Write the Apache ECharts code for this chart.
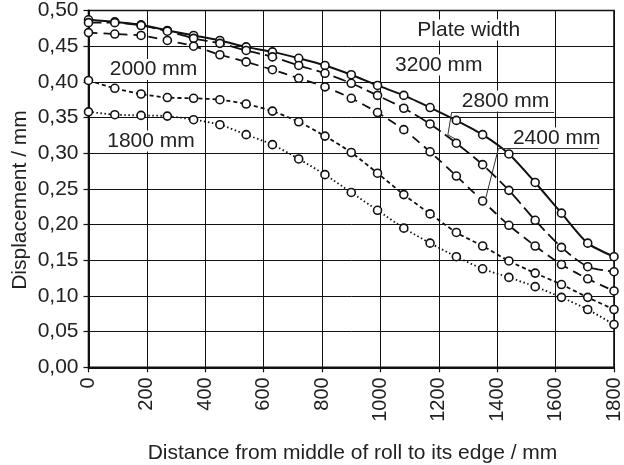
<!DOCTYPE html>
<html>
<head>
<meta charset="utf-8">
<script src="https://cdn.jsdelivr.net/npm/echarts@6/dist/echarts.min.js"></script>
<style>
html,body{margin:0;padding:0;background:#fff;}
#chart{width:624px;height:465px;}
</style>
</head>
<body>
<div id="chart"></div>
<script>
// ---- data ----
const xValues = [0,90,180,270,360,450,540,630,720,810,900,990,1080,1170,1260,1350,1440,1530,1620,1710,1800];
const w3200 = [0.487,0.484,0.480,0.472,0.465,0.458,0.449,0.442,0.433,0.423,0.410,0.395,0.381,0.364,0.346,0.326,0.299,0.259,0.216,0.174,0.155];
const w2800 = [0.483,0.483,0.479,0.471,0.461,0.454,0.444,0.435,0.423,0.412,0.398,0.381,0.363,0.341,0.314,0.284,0.248,0.206,0.168,0.141,0.134];
const w2400 = [0.469,0.467,0.465,0.458,0.450,0.438,0.428,0.417,0.405,0.393,0.377,0.357,0.333,0.302,0.268,0.233,0.199,0.170,0.144,0.124,0.107];
const w2000 = [0.402,0.391,0.383,0.378,0.377,0.375,0.369,0.359,0.344,0.324,0.301,0.272,0.242,0.215,0.189,0.170,0.149,0.132,0.116,0.098,0.081];
const w1800 = [0.358,0.354,0.353,0.352,0.347,0.340,0.326,0.312,0.292,0.270,0.245,0.220,0.195,0.174,0.155,0.138,0.126,0.113,0.098,0.081,0.060];
const xTickLabels = ['0','200','400','600','800','1000','1200','1400','1600','1800'];
const yTickLabels = ['0,00','0,05','0,10','0,15','0,20','0,25','0,30','0,35','0,40','0,45','0,50'];
const seriesNames = ['3200 mm','2800 mm','2400 mm','2000 mm','1800 mm'];

const FONT = "'Liberation Sans', Arial, sans-serif";
const INK = '#111';
const TXT = '#222';

function pts(arr){ return xValues.map((x,i)=>[x, arr[i]]); }

const chart = echarts.init(document.getElementById('chart'), null, {renderer:'canvas'});

function mkSeries(name, arr, dash, width){
  return {
    name: name,
    type: 'line',
    data: pts(arr),
    smooth: 0.25,
    symbol: 'circle',
    symbolSize: 8,
    showSymbol: true,
    lineStyle: {color: INK, width: width, type: dash},
    itemStyle: {color: '#fff', borderColor: INK, borderWidth: 1.6},
    z: 3
  };
}

const leaderStyle = {color: '#333', width: 1, type: 'solid'};

const s2800 = mkSeries(seriesNames[1], w2800, [13,5], 1.8);
s2800.markLine = {
  silent: true, symbol: ['none','none'], label:{show:false},
  lineStyle: leaderStyle, animation:false,
  data: [
    [{coord:[1244,0.3574]},{coord:[1595,0.3574]}],
    [{coord:[1244,0.3574]},{coord:[1231,0.3258]}],
    [{coord:[1231,0.3258]},{coord:[1262,0.3185]}]
  ]
};
const s2400 = mkSeries(seriesNames[2], w2400, [9,6], 1.8);
s2400.markLine = {
  silent: true, symbol: ['none','none'], label:{show:false},
  lineStyle: leaderStyle, animation:false,
  data: [
    [{coord:[1404,0.3064]},{coord:[1745,0.3064]}],
    [{coord:[1404,0.3064]},{coord:[1361,0.2375]}]
  ]
};

function label(text, x, y, bg){
  return {
    type: 'text', x: x, y: y, z: 2,
    style: {
      text: text, fill: TXT, font: '21px ' + FONT,
      textAlign: 'center', textVerticalAlign: 'middle',
      backgroundColor: bg ? '#fff' : 'transparent', padding: [0,1]
    }
  };
}

const option = {
  animation: false,
  backgroundColor: '#fff',
  grid: {left: 88.5, right: 7.5, top: 7.3, bottom: 97.7, show: true, borderColor: INK, borderWidth: 1.6, backgroundColor: 'transparent'},
  xAxis: {
    type: 'value', min: 0, max: 1800, interval: 200,
    axisLine: {show: true, lineStyle: {color: INK, width: 2}},
    axisTick: {show: true, length: 5, lineStyle: {color: INK, width: 1.2}},
    axisLabel: {
      rotate: 90, margin: 10, color: TXT, fontSize: 20, fontFamily: FONT,
      formatter: function(v){ return xTickLabels[Math.round(v/200)]; }
    },
    splitLine: {show: true, lineStyle: {color: INK, width: 1}}
  },
  yAxis: {
    type: 'value', min: 0, max: 0.5, interval: 0.05,
    axisLine: {show: true, lineStyle: {color: INK, width: 2}},
    axisTick: {show: true, length: 5, lineStyle: {color: INK, width: 1.2}},
    axisLabel: {
      margin: 10, color: TXT, fontSize: 21, fontFamily: FONT,
      formatter: function(v){ return yTickLabels[Math.round(v/0.05)]; }
    },
    splitLine: {show: true, lineStyle: {color: INK, width: 1}}
  },
  graphic: [
    label('Plate width', 468.7, 30, true),
    label('3200 mm', 438.8, 65, true),
    label('2800 mm', 505.5, 101, true),
    label('2400 mm', 556.7, 138, true),
    label('2000 mm', 153.5, 69.5, true),
    label('1800 mm', 151, 141, true),
    {
      type: 'text', x: 352.5, y: 453,
      style: {text: 'Distance from middle of roll to its edge / mm', fill: TXT, font: '21px ' + FONT, textAlign: 'center', textVerticalAlign: 'middle'}
    },
    {
      type: 'text', x: 20, y: 200, rotation: Math.PI/2,
      style: {text: 'Displacement / mm', fill: TXT, font: '21px ' + FONT, textAlign: 'center', textVerticalAlign: 'middle'}
    }
  ],
  series: [
    mkSeries(seriesNames[0], w3200, 'solid', 2),
    s2800,
    s2400,
    mkSeries(seriesNames[3], w2000, [4,3], 1.8),
    mkSeries(seriesNames[4], w1800, [1.5,2.5], 1.8)
  ]
};
chart.setOption(option);
</script>
</body>
</html>
